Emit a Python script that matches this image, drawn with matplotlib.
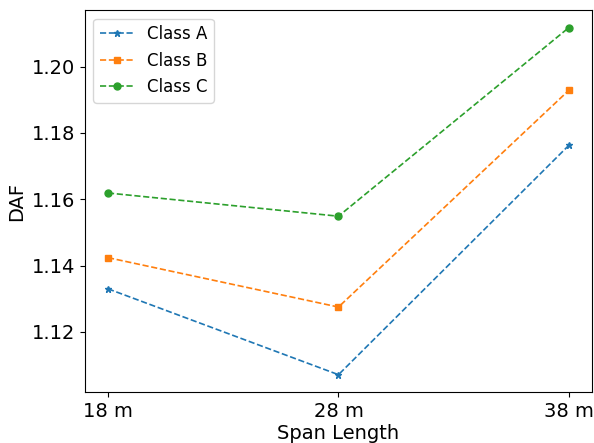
import matplotlib
matplotlib.use('Agg')
import matplotlib.pyplot as plt

spans = ['18 m', '28 m', '38 m']
class_a = [1.1330, 1.1071, 1.1763]
class_b = [1.1424, 1.1275, 1.1929]
class_c = [1.1619, 1.1549, 1.2118]

fig = plt.figure(figsize=(5.94, 4.43), dpi=100)
ax = fig.add_axes([0.143, 0.115, 0.8536, 0.862])

x = range(len(spans))
ax.plot(x, class_a, '--', marker='*', markersize=5, linewidth=1.2, color='tab:blue', label='Class A')
ax.plot(x, class_b, '--', marker='s', markersize=5, linewidth=1.2, color='tab:orange', label='Class B')
ax.plot(x, class_c, '--', marker='o', markersize=5, linewidth=1.2, color='tab:green', label='Class C')

ax.set_xticks(list(x))
ax.set_xticklabels(spans)
ax.set_yticks([1.12, 1.14, 1.16, 1.18, 1.20])
ax.tick_params(labelsize=14)
ax.set_xlabel('Span Length', fontsize=14, labelpad=2)
ax.set_ylabel('DAF', fontsize=14)
ax.legend(loc='upper left', fontsize=12)

fig.savefig('out.png', dpi=100)
